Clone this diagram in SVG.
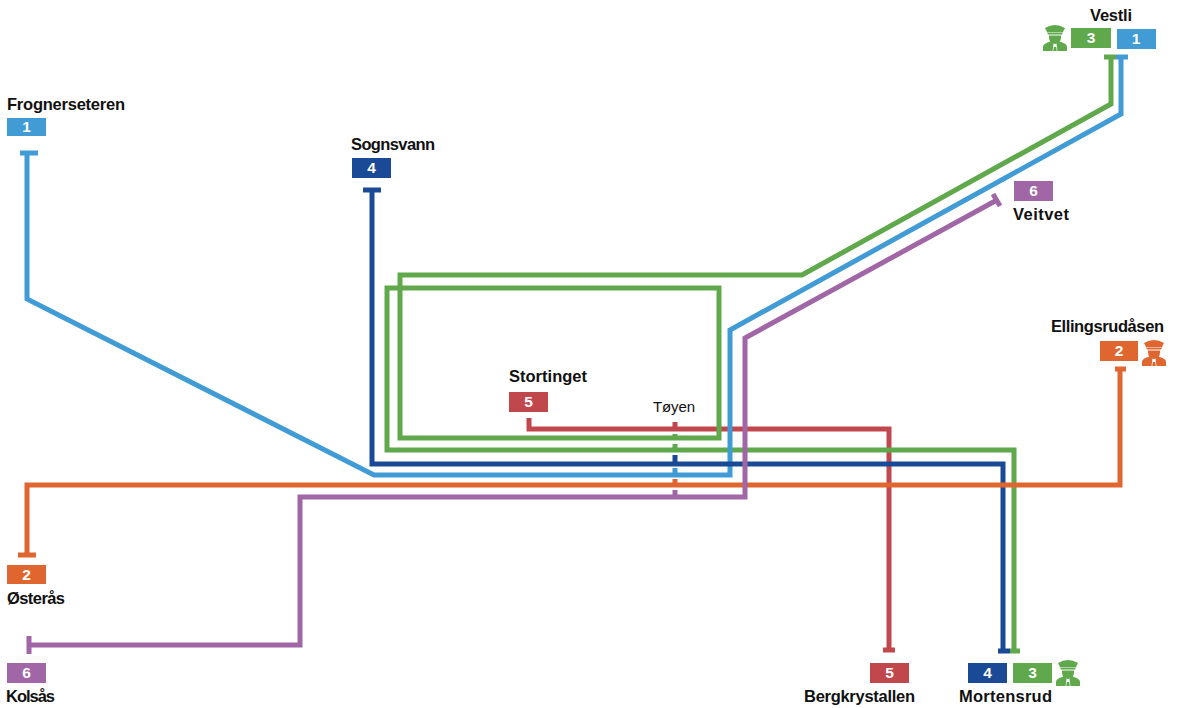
<svg xmlns="http://www.w3.org/2000/svg" width="1177" height="708" viewBox="0 0 1177 708">
<style>
.l{fill:none;stroke-width:5;stroke-linejoin:miter}
.c{fill:none;stroke-width:5}
.r1{stroke:#419bd5}.r2{stroke:#e0662f}.r3{stroke:#5fa84b}.r4{stroke:#1a4a96}.r5{stroke:#c0474c}.r6{stroke:#a066a5}
.f1{fill:#419bd5}.f2{fill:#e0662f}.f3{fill:#5fa84b}.f4{fill:#1a4a96}.f5{fill:#c0474c}.f6{fill:#a066a5}
.n{font:bold 16.5px "Liberation Sans",Arial,sans-serif;fill:#111}
.b{font:bold 15.5px "Liberation Sans",Arial,sans-serif;fill:#fff;text-anchor:middle}
.t{font:15px "Liberation Sans",Arial,sans-serif;fill:#111;text-anchor:middle}
</style>
<defs>
<g id="officer">
<path d="M2 5 Q12 -1 22 5 L20 9 H4Z"/>
<path d="M4 9.500 H20 L19 11.500 H5Z"/>
<path d="M6 12.500 H18 V14 Q18 21 12 21 Q6 21 6 14Z"/>
<path d="M0 28 V24 Q0 20 8 18.500 L10.500 21 L9.500 28Z M24 28 V24 Q24 20 16 18.500 L13.500 21 L14.500 28Z M10.800 24 H13.200 L13.800 28 H10.200Z"/>
</g>
</defs>
<g id="connectors">
<path class="l r5" d="M529 418V429H889V650"/><path class="c r5" d="M883 650H895"/>
<path class="l r3" d="M1111 58V104L802 275H400V438H719V288H387V450H1014V651"/><path class="c r3" d="M1104 57H1116M1010 651H1020"/>
<path class="l r1" d="M1121 58V114L730 330V475H374L27 299V153"/><path class="c r1" d="M1116 57H1128M20 153H38"/>
<path class="l r4" d="M372 190V464H1003V650"/><path class="c r4" d="M363 190H381M998 651H1010"/>
<path class="l r2" d="M1120 369V485H27V555"/><path class="c r2" d="M1115 369H1126M18 555H36"/>
<path class="l r6" d="M997 200L745 338V497H300V645H29"/><path class="c r6" d="M993 194L1000 206M29 636V654"/>
</g>
<g id="toyen">
<path class="c r5" d="M675 422V428"/><path class="c r3" d="M675 434V440M675 444V450"/><path class="c r4" d="M675 455V463"/><path class="c r1" d="M675 468V476"/><path class="c r2" d="M675 479V485"/><path class="c r6" d="M675 490V497"/>
<text class="t" x="674" y="412" textLength="42">Tøyen</text>
</g>
<g id="frognerseteren"><text class="n" x="7" y="110" textLength="118">Frognerseteren</text><rect class="f1" x="7" y="118" width="39" height="18"/><text class="b" x="26.500" y="132">1</text></g>
<g id="sognsvann"><text class="n" x="351" y="150" textLength="84">Sognsvann</text><rect class="f4" x="352" y="158" width="39" height="20"/><text class="b" x="371.500" y="173">4</text></g>
<g id="vestli"><text class="n" x="1090" y="21" textLength="42">Vestli</text><use href="#officer" class="f3" x="1043" y="23"/><rect class="f3" x="1071" y="28" width="40" height="20"/><text class="b" x="1091" y="43">3</text><rect class="f1" x="1117" y="29" width="39" height="20"/><text class="b" x="1136" y="44">1</text></g>
<g id="veitvet"><rect class="f6" x="1014" y="181" width="39" height="20"/><text class="b" x="1033.500" y="196">6</text><text class="n" x="1013" y="220" textLength="56">Veitvet</text></g>
<g id="ellingsrudasen"><text class="n" x="1051" y="332" textLength="113">Ellingsrudåsen</text><rect class="f2" x="1100" y="341" width="38" height="20"/><text class="b" x="1119" y="356">2</text><use href="#officer" class="f2" x="1142" y="338"/></g>
<g id="stortinget"><text class="n" x="509" y="382" textLength="78">Stortinget</text><rect class="f5" x="509" y="392" width="39" height="20"/><text class="b" x="528.500" y="407">5</text></g>
<g id="osteras"><rect class="f2" x="7" y="565" width="39" height="19"/><text class="b" x="26.500" y="580">2</text><text class="n" x="7" y="604" textLength="58">Østerås</text></g>
<g id="kolsas"><rect class="f6" x="7" y="663" width="39" height="20"/><text class="b" x="26.500" y="678">6</text><text class="n" x="6" y="702" textLength="49">Kolsås</text></g>
<g id="bergkrystallen"><rect class="f5" x="870" y="663" width="39" height="20"/><text class="b" x="889.500" y="678">5</text><text class="n" x="804" y="702" textLength="111">Bergkrystallen</text></g>
<g id="mortensrud"><rect class="f4" x="968" y="663" width="39" height="20"/><text class="b" x="987.500" y="678">4</text><rect class="f3" x="1013" y="663" width="39" height="20"/><text class="b" x="1032.500" y="678">3</text><use href="#officer" class="f3" x="1056" y="658"/><text class="n" x="959" y="702" textLength="93">Mortensrud</text></g>
</svg>
